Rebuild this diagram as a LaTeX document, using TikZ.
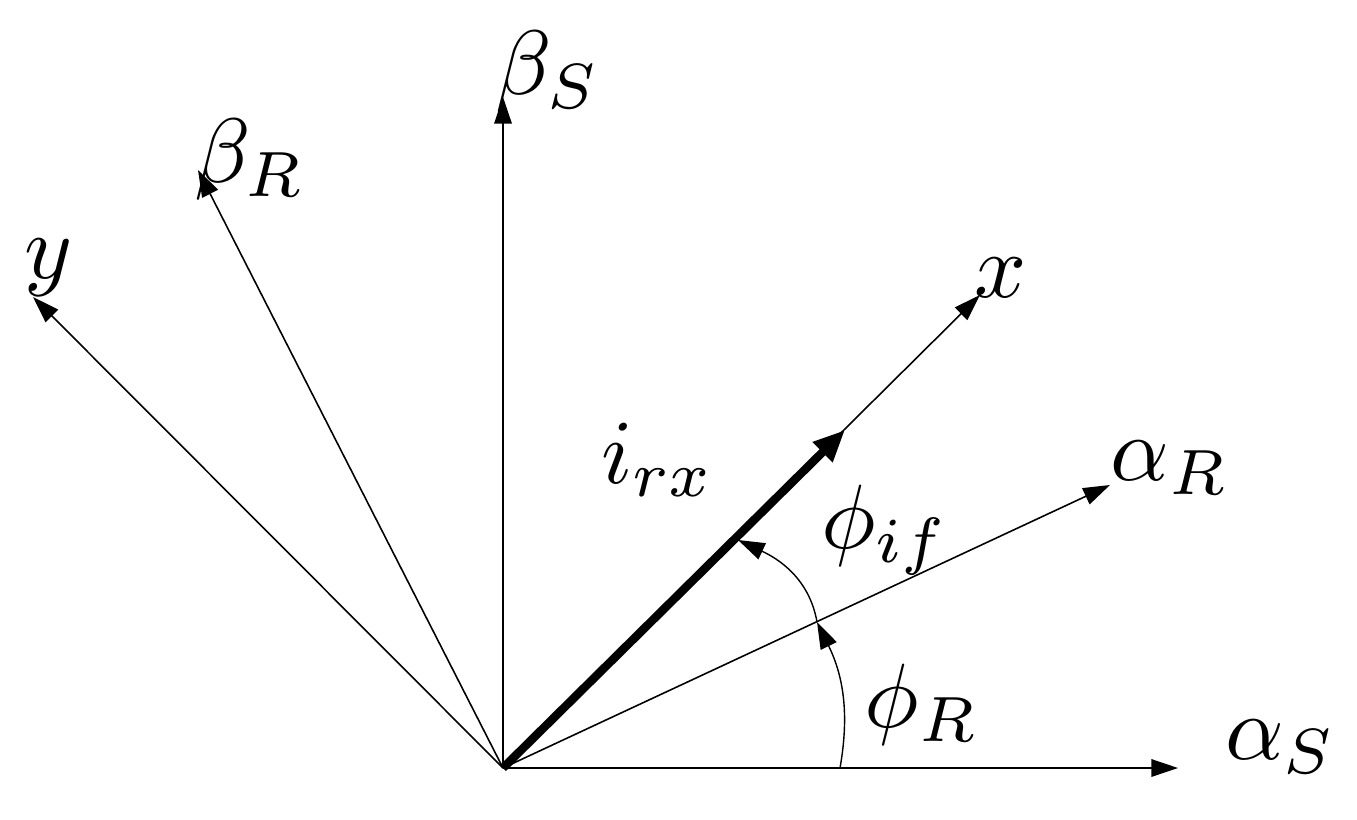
\documentclass[tikz,border=0pt]{standalone}
\usetikzlibrary{arrows.meta}
\begin{document}
\begin{tikzpicture}
    \tikzstyle{axis} = [line width = 0.45pt, -{Triangle[length=7.6pt, width=5pt]}]
    \tikzstyle{vector} = [line width = 2.4pt, -{Triangle[length=9pt, width=7.5pt]}]
    \tikzstyle{angle} = [line width = 0.4pt, -{Triangle[length=7.6pt, width=5pt]}]
    \tikzstyle{lbl} = [inner sep = 0pt, scale = 2.6]
    \useasboundingbox (0,0) rectangle (13.57,8.19);
    % axes
    \coordinate (O) at (5.03,0.51);
    \coordinate (aS) at (11.78,0.51);
    \coordinate (bS) at (5.03,7.22);
    \coordinate (aR) at (11.10,3.34);
    \coordinate (bR) at (1.98,6.49);
    \coordinate (X) at (9.80,5.24);
    \coordinate (Y) at (0.33,5.22);
    \coordinate (I) at (8.45,3.89);
    \draw[axis] (O)--(aS);
    \draw[axis] (O)--(bS);
    \draw[axis] (O)--(aR);
    \draw[axis] (O)--(bR);
    \draw[axis] (O)--(X);
    \draw[axis] (O)--(Y);
    \draw[vector] (O)--(I);
    % angles
    \coordinate (A1) at (8.40,0.51);
    \coordinate (A2) at (8.17,1.97);
    \coordinate (A3) at (7.38,2.79);
    \draw[angle] (A1) to[out=80, in=-64] (A2);
    \draw[angle] (A2) to[out=100, in=-25] (A3);
    % labels
    \node[lbl](laS) at (12.81,0.72){$\alpha_S$};
    \node[lbl](lbS) at (5.48,7.47){$\beta_S$};
    \node[lbl](laR) at (11.70,3.51){$\alpha_R$};
    \node[lbl](lbR) at (2.50,6.59){$\beta_R$};
    \node[lbl](lY) at (0.49,5.51){$y$};
    \node[lbl](lX) at (10.01,5.41){$x$};
    \node[lbl](lI) at (6.58,3.59){$i_{rx}$};
    \node[lbl](lif) at (8.85,2.89){$\phi_{if}$};
    \node[lbl](lR) at (9.22,1.14){$\phi_R$};
\end{tikzpicture}
\end{document}
